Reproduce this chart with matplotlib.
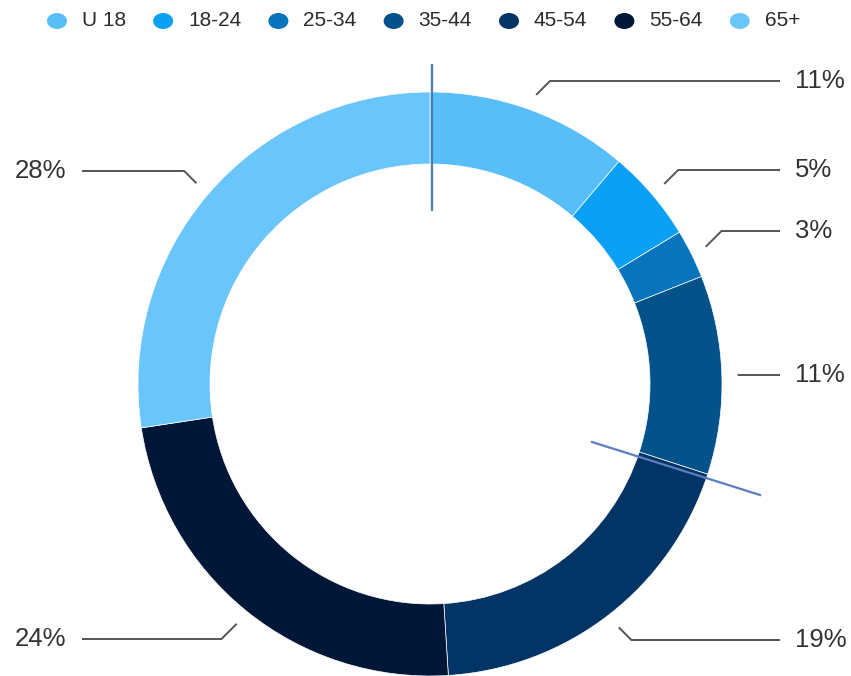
import numpy as np
import matplotlib
matplotlib.use("Agg")
import matplotlib.pyplot as plt
from matplotlib.patches import Ellipse

# ---- data ----
categories = ["U 18", "18-24", "25-34", "35-44", "45-54", "55-64", "65+"]
pct_labels = [11, 5, 3, 11, 19, 24, 28]                  # printed percentages
shares = [11.2, 5.1, 2.7, 11.0, 19.0, 23.6, 27.4]        # arc sizes read from the ring
colors = ["#58bef8", "#0aa0f3", "#0874bb", "#04528a", "#023565", "#011738", "#6ac6fa"]
label_y = [81, 170, 231, 375, 640, 639, 171]             # label rows (pixels from top)

W, H = 851, 676
plt.rcParams['font.family'] = ['Liberation Sans', 'DejaVu Sans']
fig = plt.figure(figsize=(W / 100, H / 100), dpi=100)
ax = fig.add_axes([0, 0, 1, 1])
ax.set_xlim(0, W)
ax.set_ylim(0, H)
ax.axis("off")

def Y(y):
    return H - y

cx, cy, R, width = 430, 384, 292, 72
wedges, _ = ax.pie(shares, colors=colors, startangle=90, counterclock=False,
                   radius=R, center=(cx, Y(cy)),
                   wedgeprops=dict(width=width, edgecolor="white", linewidth=0.5))

# leader lines and labels
for w, p, ly in zip(wedges, pct_labels, label_y):
    mid = np.deg2rad((w.theta1 + w.theta2) / 2)
    sx = cx + (R + 16) * np.cos(mid)
    sy = cy - (R + 16) * np.sin(mid)
    right = np.cos(mid) > 0
    dy = abs(sy - ly)
    ex = sx + dy if right else sx - dy
    endx = 780 if right else 82
    ax.plot([sx, ex, endx], [Y(sy), Y(ly), Y(ly)], color="#555555", lw=1.4,
            solid_capstyle="butt", solid_joinstyle="miter")
    if right:
        ax.text(795, Y(ly), f"{p}%", ha="left", va="center", fontsize=18.5, color="#333333")
    else:
        ax.text(66, Y(ly), f"{p}%", ha="right", va="center", fontsize=18.5, color="#333333")

# stray marker lines in the reference
ax.plot([432, 432], [Y(65), Y(210)], color="#4d7db5", lw=1.6)
ax.plot([592, 760], [Y(442), Y(495)], color="#5b7dc0", lw=1.6)

# legend (laid out item after item)
fig.canvas.draw()
renderer = fig.canvas.get_renderer()
x = 57
for cat, col in zip(categories, colors):
    ax.add_patch(Ellipse((x, Y(21)), 20, 16, color=col, ec="none"))
    t = ax.text(x + 25, Y(21), cat, ha="left", va="center", fontsize=15, color="#2b2b2b")
    wpx = t.get_window_extent(renderer).width
    x = x + 25 + wpx + 37

ax.set_xlim(0, W)
ax.set_ylim(0, H)
ax.set_aspect("auto")
fig.savefig("out.png", dpi=100, facecolor="white")
